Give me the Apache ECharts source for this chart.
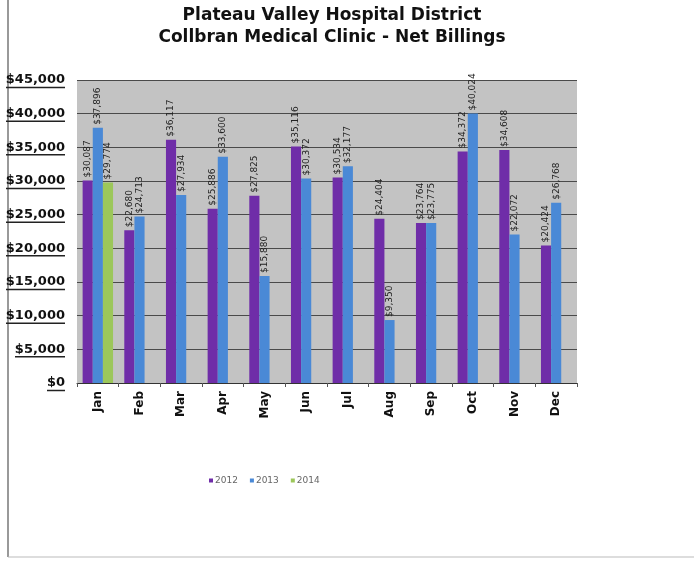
<!DOCTYPE html>
<html><head><meta charset="utf-8">
<script src="https://cdn.jsdelivr.net/npm/echarts@6/dist/echarts.min.js"></script>
<style>html,body{margin:0;padding:0;background:#fff}#c{width:694px;height:561px}</style>
</head><body><div id="c"></div>
<script>
var months = ['Jan','Feb','Mar','Apr','May','Jun','Jul','Aug','Sep','Oct','Nov','Dec'];
var seriesNames = ['2012','2013','2014'];
var v2012 = [30087,22680,36117,25886,27825,35116,30534,24404,23764,34372,34608,20424];
var v2013 = [37896,24713,27934,33600,15880,30372,32177,9350,23775,40024,22072,26768];
var v2014 = [29774,null,null,null,null,null,null,null,null,null,null,null];
var yTicks = [0,5000,10000,15000,20000,25000,30000,35000,40000,45000];
var colors = ['#6f2da8','#4a89d6','#9cc75a'];

function money(v){ return '$' + v.toString().replace(/\B(?=(\d{3})+(?!\d))/g, ','); }

var chart = echarts.init(document.getElementById('c'));
var font = 'DejaVu Sans, Verdana, sans-serif';
function mk(name, data, color){
  return {
    name: name, type: 'bar', data: data, barGap: '0%', barCategoryGap: '27%',
    itemStyle: {color: color},
    label: {show: true, position: 'top', rotate: 90, align: 'left', verticalAlign: 'middle',
      distance: 3, fontSize: 9, color: '#222', fontFamily: font,
      formatter: function(p){ return p.value == null ? '' : money(p.value); }}
  };
}
var uRich = {};
var uW = {2: 18, 6: 50, 7: 59};
[2,6,7].forEach(function(n){
  uRich['u' + n] = {width: uW[n], height: 1.5, lineHeight: 2,
    backgroundColor: '#222', align: 'right', fontSize: 1};
});
uRich.v = {fontSize: 13, fontWeight: 'bold', fontFamily: font, color: '#111', lineHeight: 13, align: 'right'};
uRich.s = {fontSize: 1, lineHeight: 2, align: 'right'};
chart.setOption({
  animation: false,
  backgroundColor: '#fff',
  color: colors,
  title: {text: 'Plateau Valley Hospital District\nCollbran Medical Clinic - Net Billings',
    left: 327, top: 0, textAlign: 'center',
    textStyle: {fontFamily: font, fontSize: 17, fontWeight: 'bold', color: '#111', lineHeight: 22}},
  legend: {data: seriesNames, left: 204, top: 471, itemWidth: 4, itemHeight: 4, itemGap: 12,
    icon: 'rect', textStyle: {fontSize: 9, color: '#666', fontFamily: font, padding: [0,0,0,-3]}},
  grid: {left: 77, right: 117, top: 80, bottom: 178, containLabel: false,
    show: true, backgroundColor: '#c3c3c3', borderWidth: 0},
  xAxis: {type: 'category', data: months,
    axisLine: {lineStyle: {color: '#333', width: 1}},
    axisTick: {show: true, lineStyle: {color: '#555'}, length: 4},
    axisLabel: {rotate: 90, fontFamily: font, fontSize: 12, fontWeight: 'bold', color: '#111', margin: 8}},
  yAxis: {type: 'value', min: 0, max: 45000, interval: 5000,
    axisLine: {show: false}, axisTick: {show: false},
    splitLine: {lineStyle: {color: '#4a4a4a', width: 1}},
    axisLabel: {margin: 12, fontFamily: font, color: '#111',
      formatter: function(v){ var t = money(v); return '{s| }\n{v|' + t + '}\n{u' + t.length + '| }'; },
      rich: uRich}},
  series: [mk(seriesNames[0], v2012, colors[0]), mk(seriesNames[1], v2013, colors[1]), mk(seriesNames[2], v2014, colors[2])],
  graphic: [
    {type: 'line', shape: {x1: 8, y1: 0, x2: 8, y2: 557}, style: {stroke: '#777', lineWidth: 1.5}},
    {type: 'line', shape: {x1: 8, y1: 557, x2: 694, y2: 557}, style: {stroke: '#bbb', lineWidth: 1}}
  ]
});
</script></body></html>
